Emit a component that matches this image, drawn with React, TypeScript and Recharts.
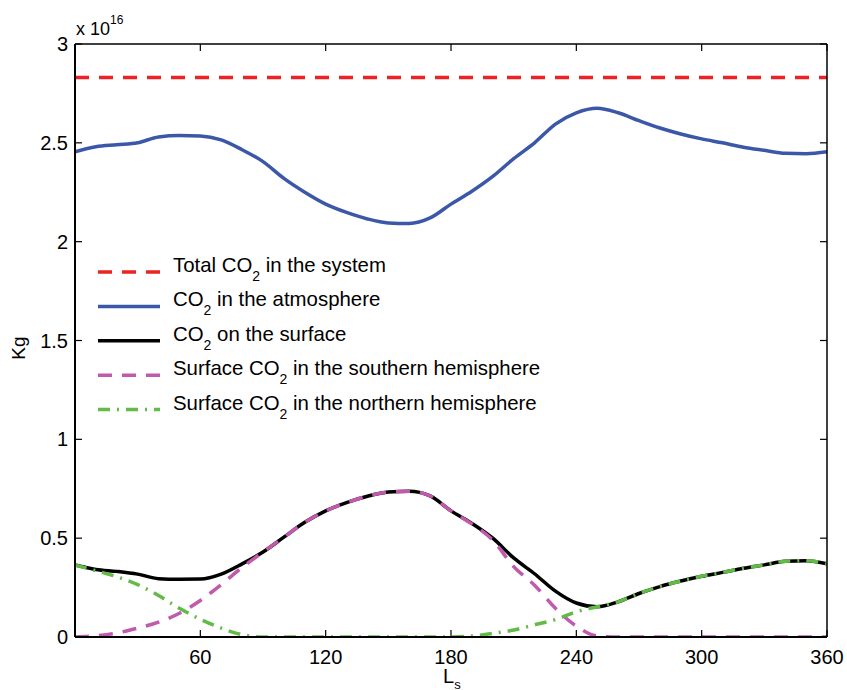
import { LineChart, Line, XAxis, YAxis, Legend, Label } from 'recharts';

// solar longitude Ls (deg)
const ls = [0, 10, 20, 30, 40, 50, 60, 70, 80, 90, 100, 110, 120, 130, 140, 150, 160, 170, 180,
  190, 200, 210, 220, 230, 240, 250, 260, 270, 280, 290, 300, 310, 320, 330, 340, 350, 360];

// all masses in units of 1e16 kg
const total = [2.83, 2.83, 2.83, 2.83, 2.83, 2.83, 2.83, 2.83, 2.83, 2.83, 2.83, 2.83, 2.83, 2.83,
  2.83, 2.83, 2.83, 2.83, 2.83, 2.83, 2.83, 2.83, 2.83, 2.83, 2.83, 2.83, 2.83, 2.83, 2.83, 2.83,
  2.83, 2.83, 2.83, 2.83, 2.83, 2.83, 2.83];
const atmosphere = [2.455, 2.48, 2.49, 2.5, 2.53, 2.537, 2.535, 2.515, 2.465, 2.405, 2.32, 2.25,
  2.19, 2.148, 2.115, 2.095, 2.092, 2.12, 2.19, 2.255, 2.33, 2.42, 2.5, 2.595, 2.652, 2.675,
  2.652, 2.612, 2.575, 2.545, 2.52, 2.5, 2.478, 2.462, 2.447, 2.445, 2.455];
const surface = [0.365, 0.342, 0.332, 0.318, 0.295, 0.292, 0.293, 0.318, 0.37, 0.43, 0.505, 0.58,
  0.638, 0.68, 0.712, 0.733, 0.737, 0.714, 0.638, 0.575, 0.5, 0.4, 0.32, 0.232, 0.172, 0.153,
  0.178, 0.22, 0.255, 0.283, 0.307, 0.327, 0.348, 0.365, 0.383, 0.386, 0.37];
const south = [0, 0.006, 0.02, 0.045, 0.075, 0.12, 0.185, 0.265, 0.352, 0.43, 0.505, 0.58,
  0.638, 0.68, 0.712, 0.733, 0.737, 0.714, 0.638, 0.572, 0.49, 0.356, 0.262, 0.145, 0.055, 0.005,
  0, 0, 0, 0, 0, 0, 0, 0, 0, 0, 0];
const north = [0.365, 0.335, 0.305, 0.265, 0.21, 0.145, 0.09, 0.045, 0.012, 0, 0, 0, 0, 0, 0, 0,
  0, 0, 0, 0.005, 0.018, 0.035, 0.062, 0.088, 0.128, 0.153, 0.178, 0.22, 0.255, 0.283, 0.307,
  0.327, 0.348, 0.365, 0.383, 0.386, 0.37];

const xTicks = [60, 120, 180, 240, 300, 360];
const yTicks = [0, 0.5, 1, 1.5, 2, 2.5, 3];

const data = ls.map((L, i) => ({
  L,
  total: total[i],
  atmosphere: atmosphere[i],
  surface: surface[i],
  south: south[i],
  north: north[i],
}));

const series = [
  { key: 'total', pre: 'Total CO', post: ' in the system', color: '#ec2227', dash: '14 10', width: 3.5 },
  { key: 'atmosphere', pre: 'CO', post: ' in the atmosphere', color: '#3b58a8', dash: undefined, width: 3.5 },
  { key: 'surface', pre: 'CO', post: ' on the surface', color: '#000000', dash: undefined, width: 3.5 },
  { key: 'south', pre: 'Surface CO', post: ' in the southern hemisphere', color: '#c05aad', dash: '14 10', width: 3.5 },
  { key: 'north', pre: 'Surface CO', post: ' in the northern hemisphere', color: '#62bb46', dash: '12 7 2 7', width: 3.5 },
];

const FONT = '"Liberation Sans", Arial, Helvetica, sans-serif';

const LeftTick = (p: any) => (
  <g>
    <line x1={p.x} x2={p.x + 7} y1={p.y} y2={p.y} stroke="#000" strokeWidth={1.2} />
    <text x={p.x - 7} y={p.y + 7} textAnchor="end" fontSize={20} fontFamily={FONT} fill="#000">
      {String(p.payload.value)}
    </text>
  </g>
);

const RightTick = (p: any) => (
  <line x1={p.x - 7} x2={p.x} y1={p.y} y2={p.y} stroke="#000" strokeWidth={1.2} />
);

const BottomTick = (p: any) => (
  <g>
    <line x1={p.x} x2={p.x} y1={p.y} y2={p.y - 7} stroke="#000" strokeWidth={1.2} />
    <text x={p.x} y={p.y + 27} textAnchor="middle" fontSize={20} fontFamily={FONT} fill="#000">
      {String(p.payload.value)}
    </text>
  </g>
);

const TopTick = (p: any) => (
  <line x1={p.x} x2={p.x} y1={p.y} y2={p.y + 7} stroke="#000" strokeWidth={1.2} />
);

const LegendBox = () => (
  <svg width={480} height={175} style={{ display: 'block' }}>
    {series.map((s, i) => {
      const y = 20 + i * 34.4;
      return (
        <g key={s.key}>
          <line x1={8} x2={70} y1={y} y2={y} stroke={s.color} strokeWidth={s.width} strokeDasharray={s.dash} />
          <text x={83} y={y} fontSize={20.4} fontFamily={FONT} fill="#000">
            {s.pre}
            <tspan dy={9} fontSize={14}>2</tspan>
            <tspan dy={-9} fontSize={20.4}>{s.post}</tspan>
          </text>
        </g>
      );
    })}
  </svg>
);

export default function App() {
  return (
    <div style={{ position: 'absolute', left: 0, top: 0, width: 847, height: 690, background: '#fff' }}>
      <LineChart width={847} height={690} data={data} margin={{ top: 0, right: 0, bottom: 0, left: 0 }}>
        <XAxis
          dataKey="L"
          type="number"
          domain={[0, 360]}
          ticks={xTicks}
          tickSize={0}
          tickMargin={0}
          tickLine={false}
          tick={BottomTick}
          height={53}
          axisLine={{ stroke: '#000', strokeWidth: 2 }}
          allowDataOverflow
        >
          <Label
            content={() => (
              <text x={443} y={683} fontSize={20} fontFamily={FONT} fill="#000">
                L<tspan dy={6} fontSize={13}>s</tspan>
              </text>
            )}
          />
        </XAxis>
        <XAxis
          xAxisId="top"
          orientation="top"
          dataKey="L"
          type="number"
          domain={[0, 360]}
          ticks={xTicks}
          tickSize={0}
          tickMargin={0}
          tickLine={false}
          tick={TopTick}
          height={44}
          axisLine={{ stroke: '#000', strokeWidth: 1.5 }}
          allowDataOverflow
        />
        <YAxis
          type="number"
          domain={[0, 3]}
          ticks={yTicks}
          tickSize={0}
          tickMargin={0}
          tickLine={false}
          tick={LeftTick}
          width={75}
          axisLine={{ stroke: '#000', strokeWidth: 2 }}
          allowDataOverflow
        >
          <Label
            content={() => (
              <g>
                <text x={25} y={348} transform="rotate(-90, 25, 348)" textAnchor="middle" fontSize={19} fontFamily={FONT} fill="#000">
                  Kg
                </text>
                <text x={76} y={35} fontSize={18} fontFamily={FONT} fill="#000">
                  x 10<tspan dy={-11} fontSize={12}>16</tspan>
                </text>
              </g>
            )}
          />
        </YAxis>
        <YAxis
          yAxisId="right"
          orientation="right"
          type="number"
          domain={[0, 3]}
          ticks={yTicks}
          tickSize={0}
          tickMargin={0}
          tickLine={false}
          tick={RightTick}
          width={20}
          axisLine={{ stroke: '#000', strokeWidth: 1.5 }}
          allowDataOverflow
        />
        <Legend
          layout="horizontal"
          verticalAlign="middle"
          align="center"
          content={LegendBox}
          wrapperStyle={{ left: 90, top: 252, width: 480, height: 175 }}
        />
        {series.map((s) => (
          <Line
            key={s.key}
            dataKey={s.key}
            type={s.key === 'total' ? 'linear' : 'monotone'}
            stroke={s.color}
            strokeWidth={s.width}
            strokeDasharray={s.dash}
            dot={false}
            activeDot={false}
            isAnimationActive={false}
          />
        ))}
      </LineChart>
    </div>
  );
}
